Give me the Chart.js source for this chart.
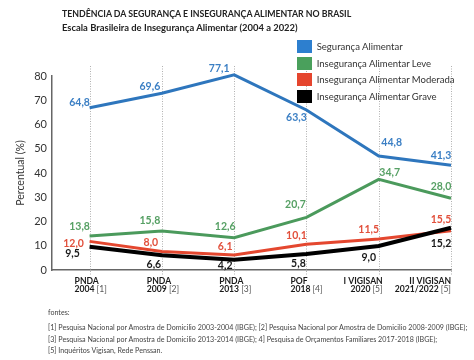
<!DOCTYPE html>
<html><head><meta charset="utf-8">
<script src="https://cdn.jsdelivr.net/npm/chart.js@4.4.1/dist/chart.umd.min.js"></script>
<style>
body{margin:0;background:#fff;width:474px;height:360px;overflow:hidden;position:relative;font-family:Lato,"Open Sans",sans-serif}
#c{position:absolute;left:0;top:0}
.t{position:absolute;white-space:nowrap;line-height:1;color:#222}
.lb{position:absolute;width:15px;height:13px}
</style></head><body>
<canvas id="c" width="474" height="360"></canvas>
<div class="t" id="title" style="font-weight:700">TENDÊNCIA DA SEGURANÇA E INSEGURANÇA ALIMENTAR NO BRASIL</div>
<div class="t" id="sub" style="font-weight:700">Escala Brasileira de Insegurança Alimentar (2004 a 2022)</div>
<div class="t" id="f0" style="color:#444">fontes:</div>
<div class="t" id="f1" style="color:#444">[1] Pesquisa Nacional por Amostra de Domicilio 2003-2004 (IBGE); [2] Pesquisa Nacional por Amostra de Domicilio 2008-2009 (IBGE);</div>
<div class="t" id="f2" style="color:#444">[3] Pesquisa Nacional por Amostra de Domicilio 2013-2014 (IBGE); 4] Pesquisa de Orçamentos Familiares 2017-2018 (IBGE);</div>
<div class="t" id="f3" style="color:#444">[5] Inquéritos Vigisan, Rede Penssan.</div>
<div id="legend"></div>
<script>
// ---- data ----
const xTop  = ['PNDA','PNDA','PNDA','POF','I VIGISAN','II VIGISAN'];
const xYear = ['2004','2009','2013','2018','2020','2021/2022'];
const xRef  = ['[1]','[2]','[3]','[4]','[5]','[5]'];
const seriesNames = ['Segurança Alimentar','Insegurança Alimentar Leve','Insegurança Alimentar Moderada','Insegurança Alimentar Grave'];
// line positions as drawn in the reference
const seguranca = [66.9, 72.9, 80.5, 66.0, 47.0, 43.2];
const leve      = [14.0, 16.1, 13.3, 21.7, 37.4, 29.6];
const moderada  = [11.8, 7.6, 6.2, 10.6, 12.8, 16.2];
const grave     = [9.6, 6.1, 4.2, 6.6, 9.9, 17.4];
// printed value labels
const segurancaLbl = ['64,8','69,6','77,1','63,3','44,8','41,3'];
const leveLbl      = ['13,8','15,8','12,6','20,7','34,7','28,0'];
const moderadaLbl  = ['12,0','8,0','6,1','10,1','11,5','15,5'];
const graveLbl     = ['9,5','6,6','4,2','5,8','9,0','15,2'];
const yTicks = [0,10,20,30,40,50,60,70,80];

// ---- styles ----
const lineColors = ['#2e76bd','#4b9a5c','#e4472f','#000000'];
const boxColors  = ['#2d7fcf','#4aa05c','#e5452e','#000000'];
const lblColors  = ['#3b7fc4','#56a064','#e2503c','#1a1a1a'];
const lineWidths = [3,3,3,4];
const drawOrder  = [1,2,3,0];
const lblOffsets = [
  [[-10,-5],[-12,-7],[-15,-6],[-10,8],[13,-13],[-10,-10]],
  [[-10,-9],[-12,-10],[-9,-11],[-11,-13],[11,-7],[-10,-12]],
  [[-16,2],[-11,-9],[-9,-8],[-10,-9],[-10,-9],[-10,-11]],
  [[-17,7],[-8,9],[-9,6],[-8,10],[-10,12],[-10,16]]
];
const xAlign = ['left','left','left','left','right','right'];
const xAlignOff = [-15,-15,-15,-16,4,0];

const values = [seguranca, leve, moderada, grave];
const labelsTxt = [segurancaLbl, leveLbl, moderadaLbl, graveLbl];

function fit(el, left, cy, target, base){
  el.style.fontSize = '20px';
  const w = el.getBoundingClientRect().width;
  let fs = target ? 20*target/w : base;
  el.style.fontSize = fs + 'px';
  el.style.left = left + 'px';
  el.style.top = (cy - fs/2) + 'px';
  return fs;
}
fit(document.getElementById('title'), 62, 14, 290);
fit(document.getElementById('sub'), 62, 28, 236);
const ffs = fit(document.getElementById('f1'), 48, 328, 420);
fit(document.getElementById('f2'), 48, 340, null, ffs);
fit(document.getElementById('f3'), 48, 351, null, ffs);
fit(document.getElementById('f0'), 48, 313, null, ffs);

// legend
const lg = document.getElementById('legend');
seriesNames.forEach((n,i)=>{
  const b = document.createElement('div');
  b.className='lb'; b.style.background=boxColors[i];
  b.style.left='297px'; b.style.top=(40+16.7*i)+'px';
  lg.appendChild(b);
  const t = document.createElement('div');
  t.className='t'; t.textContent=n; t.style.color='#333';
  lg.appendChild(t);
  t.dataset.cy = 46.7+16.7*i;
});
(function(){
  const ts = lg.querySelectorAll('.t');
  const fs = fit(ts[2], 316.7, +ts[2].dataset.cy, 138);
  ts.forEach(t=>fit(t, 316.7, +t.dataset.cy, null, fs));
})();

const overlay = {
  id:'overlay',
  beforeDatasetsDraw(chart){
    const ctx = chart.ctx, xs = chart.scales.x;
    ctx.save();
    ctx.strokeStyle = '#b0b0b0'; ctx.lineWidth = 1; ctx.setLineDash([1,1.5]);
    xTop.forEach((_,i)=>{
      const x = Math.round(xs.getPixelForValue(i))+0.5;
      ctx.beginPath(); ctx.moveTo(x,66); ctx.lineTo(x,275); ctx.stroke();
    });
    ctx.restore();
  },
  afterDatasetsDraw(chart){
    const ctx = chart.ctx, xs = chart.scales.x;
    ctx.save();
    ctx.textBaseline = 'middle'; ctx.textAlign = 'center';
    ctx.font = 'bold 10.5px Lato, sans-serif';
    chart.data.datasets.forEach((ds,di)=>{
      const meta = chart.getDatasetMeta(di);
      meta.data.forEach((pt,i)=>{
        const o = lblOffsets[di][i];
        ctx.fillStyle = lblColors[di];
        ctx.fillText(labelsTxt[di][i], pt.x+o[0], pt.y+o[1]);
      });
    });
    // x labels
    ctx.textAlign = 'left';
    xTop.forEach((t,i)=>{
      const cx = xs.getPixelForValue(i) + xAlignOff[i];
      ctx.font = 'bold 8.6px Lato, sans-serif';
      const wTop = ctx.measureText(t).width;
      const wYear = ctx.measureText(xYear[i]+' ').width;
      ctx.font = '8.6px Lato, sans-serif';
      const wRef = ctx.measureText(xRef[i]).width;
      const full = wYear + wRef;
      const xt = xAlign[i]==='left' ? cx : cx - wTop;
      const xb = xAlign[i]==='left' ? cx : cx - full;
      ctx.fillStyle = '#1a1a1a';
      ctx.font = 'bold 8.6px Lato, sans-serif';
      ctx.fillText(t, xt, 281.5);
      ctx.fillText(xYear[i]+' ', xb, 289.5);
      ctx.font = '8.6px Lato, sans-serif';
      ctx.fillStyle = '#555';
      ctx.fillText(xRef[i], xb + wYear, 289.5);
    });
    ctx.restore();
  }
};

new Chart(document.getElementById('c'), {
  type:'line',
  data:{
    datasets: values.map((v,di)=>({
      label: seriesNames[di],
      data: v.map((y,i)=>({x:i,y:y})),
      borderColor: lineColors[di],
      backgroundColor: lineColors[di],
      borderWidth: lineWidths[di],
      pointRadius: 0,
      tension: 0,
      clip: false,
      order: drawOrder[di]
    }))
  },
  options:{
    responsive:false,
    animation:false,
    layout:{padding:{left:14, top:76, right:23, bottom:90}},
    plugins:{legend:{display:false}, tooltip:{enabled:false}},
    scales:{
      x:{type:'linear', min:-0.52, max:5,
         ticks:{display:false}, grid:{display:false, drawTicks:false},
         border:{color:'#666', width:1.5},
         afterFit(s){ s.height = 0; }},
      y:{min:0, max:80,
         afterBuildTicks(s){ s.ticks = yTicks.map(v=>({value:v})); },
         ticks:{font:{family:'Lato', size:11}, color:'#333', padding:5},
         grid:{display:false, drawTicks:false},
         border:{color:'#666', width:1.5},
         title:{display:true, text:'Percentual (%)', font:{family:'Lato', size:10.5}, color:'#333', padding:{top:0,bottom:0}},
         afterFit(s){ s.width = 38; }}
    }
  },
  plugins:[overlay]
});
</script>
</body></html>
